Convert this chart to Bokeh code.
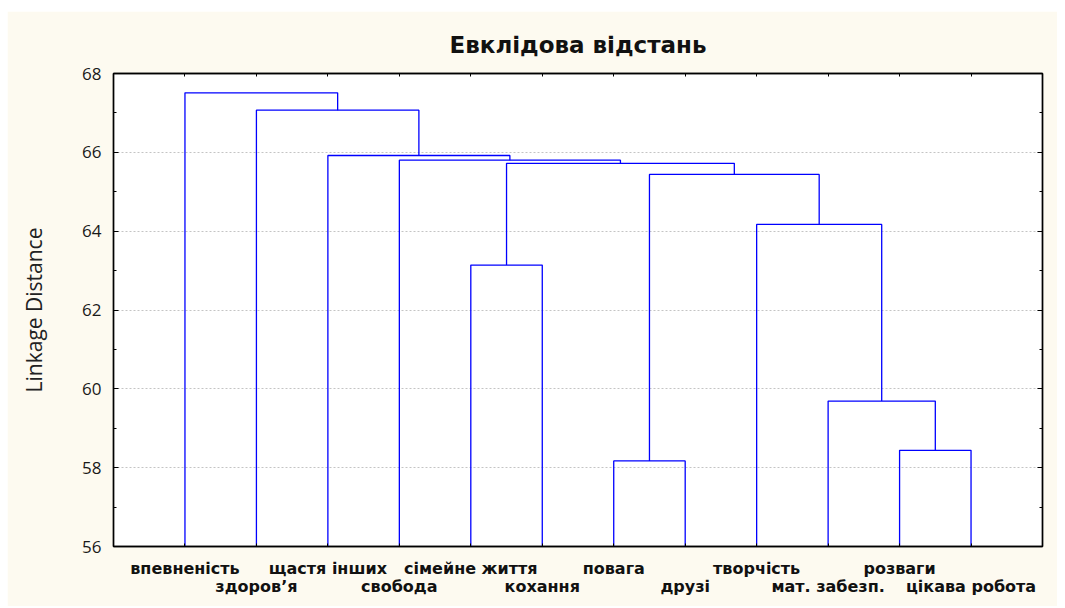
from bokeh.plotting import figure
from bokeh.models import LinearAxis, FixedTicker, Range1d, Title, Grid
from bokeh.embed import file_html
from bokeh.resources import INLINE

# ---- data ----
leaves = ["впевненість", "здоров’я", "щастя інших", "свобода", "сімейне життя",
          "кохання", "повага", "друзі", "творчість", "мат. забезп.", "розваги",
          "цікава робота"]
# linkage: leaves are 0..11, new clusters numbered 12, 13, ...
merge_left = [10, 6, 9, 4, 8, 13, 15, 3, 2, 1, 0]
merge_right = [11, 7, 12, 5, 14, 16, 17, 18, 19, 20, 21]
merge_height = [58.44, 58.17, 59.69, 63.14, 64.17, 65.44, 65.72, 65.80, 65.92, 67.07, 67.51]
y_ticks = [56, 58, 60, 62, 64, 66, 68]
y_minor = [57, 59, 61, 63, 65, 67]
title_text = "Евклідова відстань"
y_label = "Linkage Distance"

BG = "#fdfaf0"
y_min, y_max = 56, 68
n = len(leaves)

p = figure(width=1050, height=595, x_range=Range1d(0, n + 1), y_range=Range1d(y_min, y_max),
           output_backend="svg", toolbar_location=None,
           x_axis_location=None, y_axis_location=None,
           min_border_left=106, min_border_right=15, min_border_top=62, min_border_bottom=60)
p.margin = (11, 0, 0, 7)
p.border_fill_color = BG
p.background_fill_color = "white"
p.outline_line_color = "black"
p.outline_line_width = 1.5

p.title = Title(text=title_text, align="center", text_font="DejaVu Sans",
                text_font_style="bold", text_font_size="23px", text_color="#111111",
                standoff=31)

# remove default grids
p.center = [r for r in p.center if not isinstance(r, Grid)]

# ---- dendrogram geometry computed from linkage ----
xpos = {i: i + 1 for i in range(n)}
hpos = {i: y_min for i in range(n)}
xs, ys = [], []
for k, (a, b, h) in enumerate(zip(merge_left, merge_right, merge_height)):
    c = n + k
    xs.append([xpos[a], xpos[a], xpos[b], xpos[b]])
    ys.append([hpos[a], h, h, hpos[b]])
    xpos[c] = (xpos[a] + xpos[b]) / 2.0
    hpos[c] = h

# horizontal grid
yt = FixedTicker(ticks=y_ticks, minor_ticks=y_minor)
p.add_layout(Grid(dimension=1, ticker=yt, grid_line_color="#c4c4c4",
                  grid_line_dash="2 2", grid_line_width=1))

p.multi_line(xs, ys, line_color="#0000ff", line_width=1.3)

def style_frame_axis(ax):
    ax.axis_line_color = "black"
    ax.axis_line_width = 1.3
    ax.major_tick_line_color = "black"
    ax.minor_tick_line_color = "black"
    ax.major_tick_in = 5
    ax.major_tick_out = 0
    ax.minor_tick_in = 3
    ax.minor_tick_out = 0

# left axis
left = LinearAxis(ticker=yt, axis_label=y_label)
style_frame_axis(left)
left.major_label_text_font = "Open Sans"
left.major_label_text_font_size = "17px"
left.major_label_text_color = "#1a1a1a"
left.major_label_standoff = 12
left.axis_label_text_font = "Open Sans"
left.axis_label_text_font_size = "21px"
left.axis_label_text_font_style = "normal"
left.axis_label_text_color = "#222222"
left.axis_label_standoff = 31
p.add_layout(left, "left")

# right axis (ticks only)
right = LinearAxis(ticker=FixedTicker(ticks=y_ticks, minor_ticks=y_minor),
                   major_label_overrides={t: "" for t in y_ticks})
style_frame_axis(right)
p.add_layout(right, "right")

leaf_ticks = list(range(1, n + 1))
# top axis (ticks only)
top = LinearAxis(ticker=FixedTicker(ticks=leaf_ticks, minor_ticks=[]),
                 major_label_overrides={t: "" for t in leaf_ticks})
style_frame_axis(top)
top.major_tick_in = 3
top.major_label_standoff = 0
p.add_layout(top, "above")

# bottom axes: two staggered rows of labels
row1 = {t: (leaves[t - 1] if (t - 1) % 2 == 0 else "") for t in leaf_ticks}
bottom1 = LinearAxis(ticker=FixedTicker(ticks=leaf_ticks, minor_ticks=[]),
                     major_label_overrides=row1)
style_frame_axis(bottom1)
bottom1.major_tick_in = 3
bottom1.major_label_standoff = 12
bottom1.major_label_text_font = "DejaVu Sans"
bottom1.major_label_text_font_style = "bold"
bottom1.major_label_text_font_size = "16px"
bottom1.major_label_text_color = "#111111"
p.add_layout(bottom1, "below")

even_ticks = [t for t in leaf_ticks if (t - 1) % 2 == 1]
bottom2 = LinearAxis(ticker=FixedTicker(ticks=even_ticks, minor_ticks=[]),
                     major_label_overrides={t: leaves[t - 1] for t in even_ticks})
bottom2.axis_line_color = None
bottom2.major_tick_line_color = None
bottom2.minor_tick_line_color = None
bottom2.major_tick_in = 0
bottom2.major_tick_out = 0
bottom2.major_label_standoff = -4
bottom2.major_label_text_font = "DejaVu Sans"
bottom2.major_label_text_font_style = "bold"
bottom2.major_label_text_font_size = "16px"
bottom2.major_label_text_color = "#111111"
p.add_layout(bottom2, "below")

open("out.html", "w").write(file_html(p, INLINE))
